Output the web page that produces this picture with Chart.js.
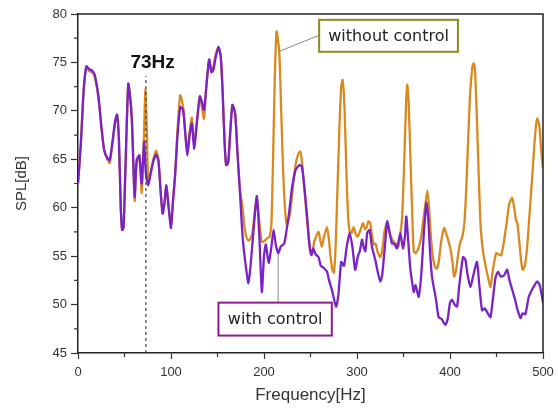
<!DOCTYPE html>
<html>
<head>
<meta charset="utf-8">
<script src="https://cdn.jsdelivr.net/npm/chart.js@4"></script>
<style>
  html, body { margin: 0; padding: 0; background: #fff; }
</style>
</head>
<body>
<canvas id="spl" width="558" height="408"></canvas>
<script>
// SPL spectrum
const withoutHz = [0, 3, 6, 9, 12, 15, 18, 22, 25, 28, 31, 34, 37, 40, 42, 44, 46, 47.5, 49, 51, 54, 56, 58, 60, 61, 63, 66, 68.5, 70.5, 72.5, 74, 75.5, 78, 81, 84, 86.5, 89, 91, 93, 95, 97.5, 100, 102, 104.5, 107, 109.8, 111.5, 113.4, 115.5, 117.6, 120, 122.4, 125, 128, 131, 133, 135.5, 138, 141, 143.5, 145.5, 148, 151, 153.5, 155.5, 157.5, 159.3, 161.5, 163.5, 166, 169, 171.5, 174, 176.8, 179, 181, 183.3, 185.5, 187.6, 190, 192.3, 195, 197.5, 200, 203, 206, 208, 209.5, 211.5, 213.5, 216.4, 218.5, 220.5, 222.5, 224.6, 226.5, 228, 231, 234, 237, 239, 241, 243, 245.5, 248, 250, 252, 254, 256, 258.7, 260.8, 262.3, 264.5, 267.5, 269.5, 271.5, 273.5, 275.2, 277, 279, 281, 283, 284.5, 286.5, 288.5, 290.5, 292.5, 294.2, 296.3, 298.5, 300.7, 303, 306.4, 308.5, 310.5, 312.2, 314.3, 316, 318, 320, 322, 325, 327, 329.5, 332.2, 334.5, 336.5, 338.5, 340.5, 342.5, 344.5, 346.5, 348.5, 350.5, 352.5, 354, 355.5, 357.5, 359.5, 361, 363, 366, 369, 371, 373, 375.7, 377.5, 379.5, 381.5, 383.5, 385.7, 388, 390.5, 393.6, 396, 398.5, 400.4, 402.5, 404.4, 406.5, 408.5, 411, 413.3, 415.5, 417.5, 419.5, 421.5, 424, 425.5, 427, 429, 431, 433, 435.5, 438, 440.5, 443.5, 446, 449.6, 452, 455, 458, 461, 463.5, 466.8, 469, 471, 472.5, 474.5, 476.5, 478.3, 480.5, 483, 486, 489, 491.5, 493.7, 496, 498, 500];
const withoutDb = [62.5, 66.5, 72, 74.5, 74.1, 74.0, 73.5, 71.3, 68.5, 66, 65.2, 64.6, 66.5, 68.8, 69.6, 67, 60, 57.7, 58, 64, 72.8, 71.5, 69, 63, 60.7, 64.5, 65.4, 61.5, 66, 72.2, 68, 62.7, 63.5, 65, 65.9, 65, 61.5, 59.4, 60.5, 62.3, 60, 58.2, 60.5, 63.5, 68, 71.6, 71.2, 70.1, 67.5, 65.6, 67.8, 69.3, 66.5, 69, 71.5, 70.5, 69.2, 72.5, 75.3, 74, 74.5, 75.8, 76.6, 75.6, 72, 67, 64.4, 64.8, 67.5, 70.6, 69.7, 65.6, 62, 60.1, 58, 57, 56.6, 56.8, 57.4, 59.5, 61, 58.5, 56.5, 56.5, 56.8, 57, 58.5, 64, 73, 78.2, 76.1, 70, 64, 60, 58.2, 58.8, 59.4, 62, 64.5, 65.6, 65.8, 64.6, 62.5, 59.5, 57, 55.6, 55.4, 56.5, 57, 57.5, 56.5, 56, 57, 58, 57, 55, 53.6, 53.3, 56, 62, 68, 72.5, 73.2, 70.5, 64, 59, 57.4, 57.4, 58, 57.3, 57, 57.5, 58.4, 57.8, 58, 58.6, 58.4, 57.2, 56.2, 56.3, 55.5, 54.9, 55.5, 57.5, 58.4, 57.5, 57, 56.6, 56.4, 56.2, 56, 57.2, 59, 64, 70, 72.7, 71, 65, 59, 55.5, 55.3, 55.8, 57, 58.5, 60, 61.8, 60, 57, 55, 54, 53.7, 54.5, 56.5, 57.9, 57.3, 56.5, 55.8, 54.5, 52.9, 53.5, 55, 56.4, 57, 58.5, 62, 67, 71.5, 74.5, 74.9, 74, 69, 63, 58, 55.5, 54.1, 53, 51.8, 53.5, 55.3, 55.2, 55.1, 56.5, 58.5, 60.3, 61, 60, 58.7, 58.4, 56.5, 54.5, 53.6, 54, 56, 60, 64, 67.5, 69.2, 68.5, 66, 64];

const withHz = [0, 3, 6, 9, 12, 15, 18, 22, 25, 28, 31, 34, 37, 40, 42, 44, 46, 47.5, 49, 51, 54, 56, 58, 60, 61, 63, 66, 68.5, 71, 73, 75.5, 78, 81, 84, 86.5, 89, 91, 93, 95, 97.5, 100, 102, 104.5, 107, 110, 113, 115.5, 117.6, 120, 122.4, 125, 128, 131, 133, 135.5, 138, 141, 143.5, 145.5, 148, 151, 153.5, 155.5, 157.5, 159.3, 161.5, 163.5, 166, 169, 171.5, 174, 177, 180, 183.3, 186, 189, 192.3, 195, 197.7, 200, 202, 205, 208, 210.3, 213, 215.6, 218, 221.7, 224, 227, 230, 234, 238, 240.5, 243, 246, 249, 251, 253, 255.5, 258.7, 261, 264, 267.7, 270, 273, 277.5, 280, 283, 286, 289, 292, 295, 298, 301, 303, 305.4, 307, 309, 311, 313.5, 316, 319.7, 322, 325, 327, 330, 332.5, 335, 337.6, 340, 343, 346.6, 349.4, 351.5, 353, 355.5, 357.4, 359, 361, 363, 366.3, 369, 372, 374.6, 376.5, 378.5, 380.5, 382.5, 385, 387.8, 391, 395, 397.5, 400, 402.2, 405, 407.6, 410, 414, 416.6, 419, 422, 425, 429, 431.5, 434.5, 437.5, 440, 443.5, 446, 449, 451.7, 454.5, 458, 461.4, 464, 467, 470, 472.5, 475.8, 478, 481, 484.7, 488, 491, 493.7, 496.5, 500];
const withDb = [62.5, 66.5, 72, 74.6, 74.3, 74.2, 73.7, 71.5, 68.5, 66, 65.2, 64.9, 66.8, 69, 69.6, 67, 60, 57.7, 58, 64, 72.8, 71.5, 69, 63, 61.1, 64.9, 65.4, 62.5, 66.8, 63.5, 62.3, 63.5, 64.8, 65.5, 64.8, 61.5, 59.4, 60.5, 62.3, 60, 57.9, 60.5, 63.5, 67.5, 70.4, 70.1, 67.5, 65.4, 67.5, 68.7, 66.1, 69, 71.5, 71, 70.1, 72.5, 75.3, 74, 74.2, 75.5, 76.6, 75.6, 72, 67, 64.4, 64.6, 67.5, 70.6, 69.7, 65.6, 61.8, 57, 54.3, 52.2, 54.5, 58, 61.2, 57, 51.3, 55, 56.2, 54.3, 56, 57.7, 56, 55.3, 56, 56.3, 57.5, 59.5, 62, 63.9, 64.4, 64.3, 62.5, 59.5, 56, 55.1, 55.8, 55.2, 54.9, 54, 53.8, 53.4, 52.5, 51.5, 49.8, 51, 54.4, 54, 56, 57.4, 56, 53.6, 55, 55.5, 56.7, 56, 55.5, 57.4, 57.7, 56, 54.6, 53.5, 52.4, 53, 56, 58.6, 57.5, 56.3, 56.3, 55.8, 57.4, 55.8, 57, 59.1, 56, 53.6, 52.5, 51.3, 52, 50.8, 53, 57.5, 60.5, 59, 55.5, 53, 51.8, 50.5, 48.7, 48.5, 47.9, 48.5, 50.2, 50.5, 50, 49.8, 52, 54.9, 54.6, 53, 51.8, 53, 54.4, 52, 49.4, 49.6, 49.2, 48.7, 50.5, 52.8, 53.4, 52.9, 53, 53.6, 52.5, 51.5, 50.5, 49.5, 48.6, 49.1, 49, 50.8, 51.5, 52, 52.4, 52, 50.2];

const xTicks = [0, 100, 200, 300, 400, 500];
const yTicks = [45, 50, 55, 60, 65, 70, 75, 80];
const markerHz = 73;

const toPoints = (xs, ys) => xs.map((v, i) => ({ x: v, y: ys[i] }));

// text boxes, leader lines, 73Hz marker, frame and minor ticks
const notesPlugin = {
  id: 'notes',
  afterDatasetsDraw(chart) {
    const { ctx, chartArea: a, scales: { x, y } } = chart;
    ctx.save();

    // top / right frame
    ctx.strokeStyle = '#222';
    ctx.lineWidth = 1.5;
    ctx.beginPath();
    ctx.moveTo(a.left, a.top);
    ctx.lineTo(a.right, a.top);
    ctx.lineTo(a.right, a.bottom);
    ctx.stroke();

    // minor ticks
    ctx.lineWidth = 1.2;
    ctx.strokeStyle = '#333';
    ctx.beginPath();
    for (let i = 0; i < xTicks.length - 1; i++) {
      const px = x.getPixelForValue((xTicks[i] + xTicks[i + 1]) / 2);
      ctx.moveTo(px, a.bottom);
      ctx.lineTo(px, a.bottom + 4);
    }
    for (let i = 0; i < yTicks.length - 1; i++) {
      const py = y.getPixelForValue((yTicks[i] + yTicks[i + 1]) / 2);
      ctx.moveTo(a.left, py);
      ctx.lineTo(a.left - 4, py);
    }
    ctx.stroke();

    // 73 Hz dashed marker
    const mx = x.getPixelForValue(markerHz);
    ctx.setLineDash([3, 3]);
    ctx.strokeStyle = '#444';
    ctx.lineWidth = 1.2;
    ctx.beginPath();
    ctx.moveTo(mx, a.bottom);
    ctx.lineTo(mx, y.getPixelForValue(73.6));
    ctx.stroke();
    ctx.setLineDash([]);

    ctx.fillStyle = '#111';
    ctx.font = 'bold 19px "Liberation Sans", Arial, sans-serif';
    ctx.textAlign = 'center';
    ctx.textBaseline = 'middle';
    ctx.fillText(markerHz + 'Hz', x.getPixelForValue(80.2), y.getPixelForValue(75));

    // callouts
    const callouts = [
      { text: 'without control', color: '#8a8a1e', f0: 259.3, f1: 408.5, d0: 76.1, d1: 79.4,
        lead: [259.3, 77.8, 215.2, 76.1] },
      { text: 'with control', color: '#8b1e8b', f0: 151, f1: 272.9, d0: 46.8, d1: 50.2,
        lead: [215.2, 50.2, 215.2, 55.3] }
    ];
    ctx.font = '16px "DejaVu Sans", sans-serif';
    callouts.forEach(c => {
      ctx.strokeStyle = '#888';
      ctx.lineWidth = 1;
      ctx.beginPath();
      ctx.moveTo(x.getPixelForValue(c.lead[0]), y.getPixelForValue(c.lead[1]));
      ctx.lineTo(x.getPixelForValue(c.lead[2]), y.getPixelForValue(c.lead[3]));
      ctx.stroke();

      const bx = x.getPixelForValue(c.f0), bx2 = x.getPixelForValue(c.f1);
      const by = y.getPixelForValue(c.d1), by2 = y.getPixelForValue(c.d0);
      ctx.fillStyle = '#fff';
      ctx.fillRect(bx, by, bx2 - bx, by2 - by);
      ctx.strokeStyle = c.color;
      ctx.lineWidth = 2;
      ctx.strokeRect(bx, by, bx2 - bx, by2 - by);
      ctx.fillStyle = '#222';
      ctx.fillText(c.text, (bx + bx2) / 2, (by + by2) / 2 + 1);
    });

    ctx.restore();
  }
};

const tickFont = { family: '"Liberation Sans", Arial, sans-serif', size: 13 };

new Chart(document.getElementById('spl'), {
  type: 'line',
  data: {
    datasets: [
      {
        label: 'with control',
        data: toPoints(withHz, withDb),
        borderColor: '#7a22c8',
        borderWidth: 2.3,
        pointRadius: 0,
        tension: 0.2,
        fill: false,
        order: 0
      },
      {
        label: 'without control',
        data: toPoints(withoutHz, withoutDb),
        borderColor: '#d8891f',
        borderWidth: 2.3,
        pointRadius: 0,
        tension: 0.2,
        fill: false,
        order: 1
      }
    ]
  },
  options: {
    responsive: false,
    animation: false,
    layout: { padding: { top: 14, right: 15, left: 0, bottom: 0 } },
    plugins: {
      legend: { display: false },
      tooltip: { enabled: false }
    },
    scales: {
      x: {
        type: 'linear',
        min: 0,
        max: 500,
        afterBuildTicks(s) { s.ticks = xTicks.map(v => ({ value: v })); },
        afterFit(s) { s.height = 55; s.paddingLeft = 0; s.paddingRight = 0; },
        grid: { drawOnChartArea: false, tickLength: 6, tickColor: '#333', tickWidth: 1.2 },
        border: { color: '#222', width: 1.5 },
        ticks: { font: tickFont, color: '#333', padding: 6, maxRotation: 0 },
        title: {
          display: true,
          text: 'Frequency[Hz]',
          color: '#333',
          font: { family: '"Liberation Sans", Arial, sans-serif', size: 17 },
          padding: { top: 0, bottom: 2 }
        }
      },
      y: {
        min: 45,
        max: 80,
        afterBuildTicks(s) { s.ticks = yTicks.map(v => ({ value: v })); },
        afterFit(s) { s.width = 78; s.paddingTop = 0; s.paddingBottom = 0; },
        grid: { drawOnChartArea: false, tickLength: 7, tickColor: '#333', tickWidth: 1.2 },
        border: { color: '#222', width: 1.5 },
        ticks: { font: tickFont, color: '#333', padding: 4 },
        title: {
          display: true,
          text: 'SPL[dB]',
          color: '#333',
          font: { family: '"Liberation Sans", Arial, sans-serif', size: 15 },
          padding: { top: 12.5, bottom: 0 }
        }
      }
    }
  },
  plugins: [notesPlugin]
});
</script>
</body>
</html>
